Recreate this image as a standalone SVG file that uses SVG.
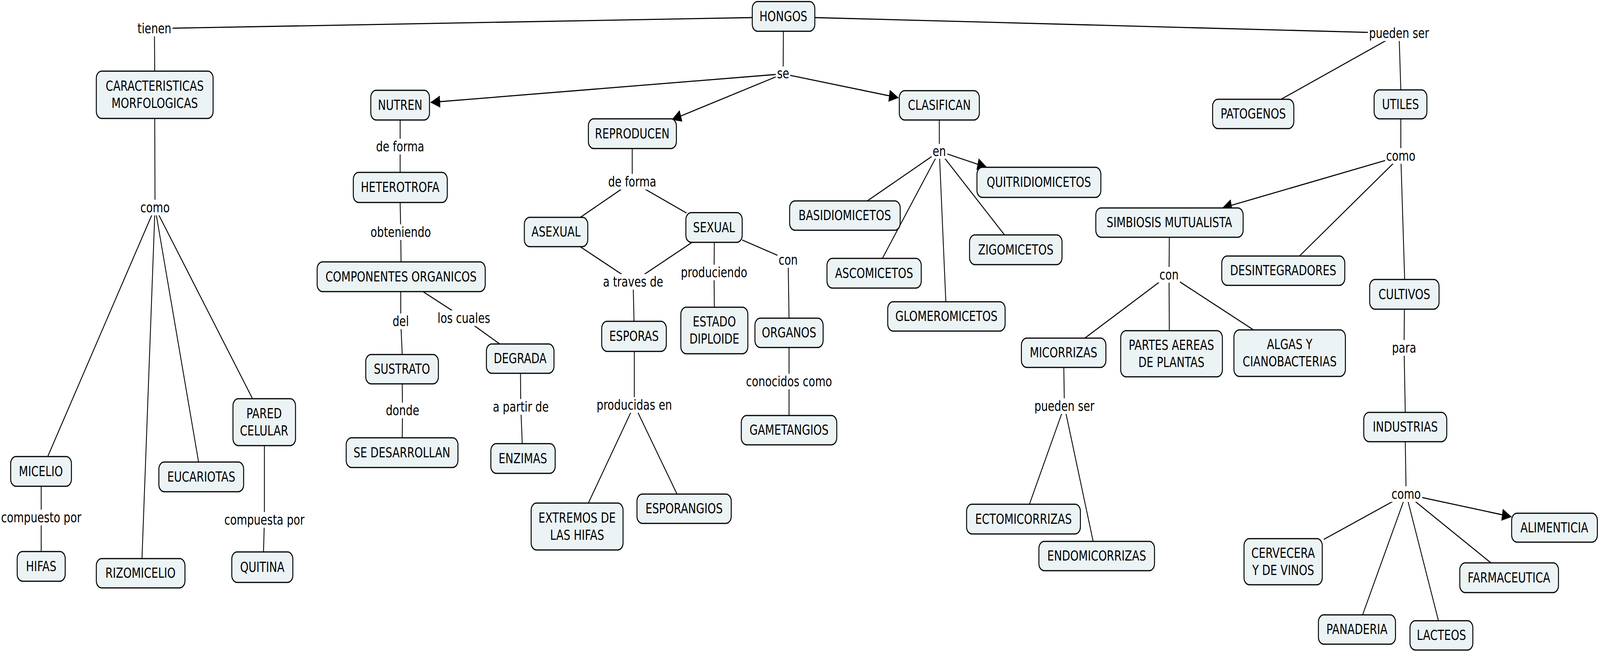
<svg xmlns="http://www.w3.org/2000/svg" width="5398" height="1668" viewBox="0 0 5398 1668" preserveAspectRatio="none" style="max-width:100vw;max-height:100vh">
<style>
.n rect{fill:#ebf3f5;stroke:#000;stroke-width:3.2}
text{font-family:"DejaVu Sans","Liberation Sans",sans-serif;font-size:36px;text-anchor:middle;fill:#000}
.c line{stroke:#000;stroke-width:2.8;fill:none}
.c line.a{marker-end:url(#ah)}
.l rect{fill:#fff}
</style>
<defs>
<marker id="ah" markerUnits="userSpaceOnUse" markerWidth="33" markerHeight="31" viewBox="0 0 33 31" refX="32" refY="15.5" orient="auto"><path d="M0,0 L33,15.5 L0,31 z" fill="#000"/></marker>
</defs>
<rect width="5398" height="1668" fill="#fff"/>
<g id="connectors" class="c">
<line x1="2538" y1="45" x2="521" y2="73"/>
<line x1="521" y1="73" x2="522" y2="182"/>
<line x1="2643" y1="80" x2="2642" y2="189"/>
<line class="a" x1="2642" y1="189" x2="1453" y2="262"/>
<line class="a" x1="2642" y1="189" x2="2267" y2="306"/>
<line class="a" x1="2642" y1="189" x2="3031" y2="250"/>
<line x1="2749" y1="45" x2="4720" y2="85"/>
<line x1="4720" y1="85" x2="4322" y2="254"/>
<line x1="4720" y1="85" x2="4726" y2="230"/>
<line x1="522" y1="303" x2="523" y2="531"/>
<line x1="523" y1="531" x2="161" y2="1168"/>
<line x1="523" y1="531" x2="479" y2="1429"/>
<line x1="523" y1="531" x2="670" y2="1182"/>
<line x1="523" y1="531" x2="852" y2="1020"/>
<line x1="139" y1="1244" x2="139" y2="1324"/>
<line x1="139" y1="1324" x2="139" y2="1411"/>
<line x1="892" y1="1140" x2="892" y2="1330"/>
<line x1="892" y1="1330" x2="889" y2="1412"/>
<line x1="1350" y1="307" x2="1350" y2="375"/>
<line x1="1350" y1="375" x2="1350" y2="441"/>
<line x1="1350" y1="518" x2="1352" y2="594"/>
<line x1="1352" y1="594" x2="1353" y2="670"/>
<line x1="1352" y1="746" x2="1352" y2="822"/>
<line x1="1352" y1="822" x2="1357" y2="907"/>
<line x1="1429" y1="747" x2="1565" y2="814"/>
<line x1="1565" y1="814" x2="1686" y2="880"/>
<line x1="1357" y1="982" x2="1358" y2="1050"/>
<line x1="1358" y1="1050" x2="1357" y2="1120"/>
<line x1="1756" y1="955" x2="1757" y2="1041"/>
<line x1="1757" y1="1041" x2="1762" y2="1135"/>
<line x1="2133" y1="380" x2="2133" y2="465"/>
<line x1="2133" y1="465" x2="1958" y2="556"/>
<line x1="2133" y1="465" x2="2316" y2="545"/>
<line x1="1959" y1="632" x2="2136" y2="721"/>
<line x1="2335" y1="620" x2="2136" y2="721"/>
<line x1="2136" y1="721" x2="2139" y2="822"/>
<line x1="2410" y1="620" x2="2409" y2="697"/>
<line x1="2409" y1="697" x2="2410" y2="786"/>
<line x1="2504" y1="614" x2="2659" y2="665"/>
<line x1="2659" y1="665" x2="2662" y2="814"/>
<line x1="2662" y1="889" x2="2662" y2="976"/>
<line x1="2662" y1="976" x2="2662" y2="1063"/>
<line x1="2140" y1="899" x2="2140" y2="1036"/>
<line x1="2140" y1="1036" x2="1985" y2="1287"/>
<line x1="2140" y1="1036" x2="2284" y2="1264"/>
<line x1="3169" y1="307" x2="3169" y2="387"/>
<line class="a" x1="3169" y1="387" x2="3329" y2="428"/>
<line x1="3169" y1="387" x2="2926" y2="514"/>
<line x1="3169" y1="387" x2="2977" y2="661"/>
<line x1="3169" y1="387" x2="3191" y2="772"/>
<line x1="3169" y1="387" x2="3389" y2="601"/>
<line x1="3945" y1="607" x2="3944" y2="703"/>
<line x1="3944" y1="703" x2="3660" y2="865"/>
<line x1="3944" y1="703" x2="3945" y2="846"/>
<line x1="3944" y1="703" x2="4229" y2="844"/>
<line x1="3589" y1="940" x2="3591" y2="1039"/>
<line x1="3591" y1="1039" x2="3473" y2="1290"/>
<line x1="3591" y1="1039" x2="3688" y2="1385"/>
<line x1="4726" y1="304" x2="4726" y2="399"/>
<line class="a" x1="4726" y1="399" x2="4124" y2="532"/>
<line x1="4726" y1="399" x2="4384" y2="655"/>
<line x1="4726" y1="399" x2="4739" y2="715"/>
<line x1="4738" y1="791" x2="4737" y2="890"/>
<line x1="4737" y1="890" x2="4741" y2="1055"/>
<line x1="4741" y1="1130" x2="4744" y2="1264"/>
<line class="a" x1="4744" y1="1264" x2="5099" y2="1322"/>
<line x1="4744" y1="1264" x2="4466" y2="1380"/>
<line x1="4744" y1="1264" x2="5030" y2="1440"/>
<line x1="4744" y1="1264" x2="4597" y2="1573"/>
<line x1="4744" y1="1264" x2="4853" y2="1588"/>
</g>
<g id="labels" class="l">
<rect x="460" y="53" width="122" height="40"/><text x="521" y="85">tienen</text>
<rect x="470" y="511" width="107" height="40"/><text x="523" y="543">como</text>
<rect x="2617" y="170" width="49" height="38"/><text x="2642" y="200">se</text>
<rect x="4615" y="65" width="211" height="40"/><text x="4720" y="97">pueden ser</text>
<rect x="1265" y="355" width="171" height="40"/><text x="1350" y="387">de forma</text>
<rect x="1246" y="574" width="212" height="40"/><text x="1352" y="606">obteniendo</text>
<rect x="1321" y="802" width="63" height="40"/><text x="1352" y="834">del</text>
<rect x="1472" y="794" width="186" height="40"/><text x="1565" y="826">los cuales</text>
<rect x="1298" y="1030" width="121" height="40"/><text x="1358" y="1062">donde</text>
<rect x="1659" y="1021" width="197" height="40"/><text x="1757" y="1053">a partir de</text>
<rect x="2048" y="445" width="171" height="40"/><text x="2133" y="477">de forma</text>
<rect x="2031" y="701" width="211" height="40"/><text x="2136" y="733">a traves de</text>
<rect x="2293" y="677" width="233" height="40"/><text x="2409" y="709">produciendo</text>
<rect x="2623" y="645" width="73" height="40"/><text x="2659" y="677">con</text>
<rect x="2513" y="956" width="298" height="40"/><text x="2662" y="988">conocidos como</text>
<rect x="2005" y="1016" width="270" height="40"/><text x="2140" y="1048">producidas en</text>
<rect x="3143" y="368" width="53" height="38"/><text x="3169" y="399">en</text>
<rect x="3908" y="683" width="73" height="40"/><text x="3944" y="715">con</text>
<rect x="3486" y="1019" width="211" height="40"/><text x="3591" y="1051">pueden ser</text>
<rect x="4673" y="379" width="107" height="40"/><text x="4726" y="411">como</text>
<rect x="4692" y="870" width="90" height="40"/><text x="4737" y="902">para</text>
<rect x="4691" y="1244" width="107" height="40"/><text x="4744" y="1276">como</text>
<rect x="2" y="1304" width="275" height="40"/><text x="139" y="1336">compuesto por</text>
<rect x="755" y="1310" width="275" height="40"/><text x="892" y="1342">compuesta por</text>
</g>
<g id="n-hongos" class="n"><rect x="2538" y="4" width="211" height="76" rx="18"/><text x="2643" y="54">HONGOS</text></g>
<g id="n-caract" class="n"><rect x="325" y="182" width="394" height="121" rx="18"/><text x="522" y="232">CARACTERISTICAS</text><text x="522" y="276">MORFOLOGICAS</text></g>
<g id="n-nutren" class="n"><rect x="1251" y="231" width="198" height="76" rx="18"/><text x="1350" y="281">NUTREN</text></g>
<g id="n-heterotrofa" class="n"><rect x="1192" y="441" width="317" height="77" rx="18"/><text x="1350" y="491">HETEROTROFA</text></g>
<g id="n-componentes" class="n"><rect x="1070" y="670" width="567" height="76" rx="18"/><text x="1353" y="720">COMPONENTES ORGANICOS</text></g>
<g id="n-sustrato" class="n"><rect x="1234" y="907" width="245" height="75" rx="18"/><text x="1356" y="956">SUSTRATO</text></g>
<g id="n-sedesarrollan" class="n"><rect x="1168" y="1120" width="377" height="76" rx="18"/><text x="1356" y="1170">SE DESARROLLAN</text></g>
<g id="n-degrada" class="n"><rect x="1641" y="880" width="228" height="75" rx="18"/><text x="1755" y="929">DEGRADA</text></g>
<g id="n-enzimas" class="n"><rect x="1656" y="1135" width="217" height="76" rx="18"/><text x="1764" y="1185">ENZIMAS</text></g>
<g id="n-reproducen" class="n"><rect x="1985" y="304" width="297" height="76" rx="18"/><text x="2133" y="354">REPRODUCEN</text></g>
<g id="n-asexual" class="n"><rect x="1769" y="556" width="214" height="75" rx="18"/><text x="1876" y="605">ASEXUAL</text></g>
<g id="n-sexual" class="n"><rect x="2314" y="544" width="190" height="76" rx="18"/><text x="2409" y="594">SEXUAL</text></g>
<g id="n-esporas" class="n"><rect x="2030" y="822" width="218" height="77" rx="18"/><text x="2139" y="872">ESPORAS</text></g>
<g id="n-estado" class="n"><rect x="2297" y="786" width="226" height="119" rx="18"/><text x="2410" y="835">ESTADO</text><text x="2410" y="879">DIPLOIDE</text></g>
<g id="n-organos" class="n"><rect x="2547" y="814" width="230" height="75" rx="18"/><text x="2662" y="863">ORGANOS</text></g>
<g id="n-gametangios" class="n"><rect x="2501" y="1063" width="322" height="75" rx="18"/><text x="2662" y="1112">GAMETANGIOS</text></g>
<g id="n-extremos" class="n"><rect x="1792" y="1287" width="310" height="120" rx="18"/><text x="1947" y="1337">EXTREMOS DE</text><text x="1947" y="1381">LAS HIFAS</text></g>
<g id="n-esporangios" class="n"><rect x="2149" y="1264" width="318" height="75" rx="18"/><text x="2308" y="1313">ESPORANGIOS</text></g>
<g id="n-clasifican" class="n"><rect x="3034" y="232" width="270" height="75" rx="18"/><text x="3169" y="281">CLASIFICAN</text></g>
<g id="n-quitridio" class="n"><rect x="3296" y="428" width="418" height="77" rx="18"/><text x="3505" y="478">QUITRIDIOMICETOS</text></g>
<g id="n-basidio" class="n"><rect x="2664" y="514" width="373" height="75" rx="18"/><text x="2850" y="563">BASIDIOMICETOS</text></g>
<g id="n-asco" class="n"><rect x="2790" y="661" width="318" height="76" rx="18"/><text x="2949" y="711">ASCOMICETOS</text></g>
<g id="n-glomero" class="n"><rect x="2995" y="772" width="396" height="75" rx="18"/><text x="3193" y="821">GLOMEROMICETOS</text></g>
<g id="n-zigo" class="n"><rect x="3271" y="601" width="312" height="76" rx="18"/><text x="3427" y="651">ZIGOMICETOS</text></g>
<g id="n-simbiosis" class="n"><rect x="3697" y="532" width="497" height="75" rx="18"/><text x="3945" y="581">SIMBIOSIS MUTUALISTA</text></g>
<g id="n-micorrizas" class="n"><rect x="3446" y="865" width="285" height="75" rx="18"/><text x="3588" y="914">MICORRIZAS</text></g>
<g id="n-partes" class="n"><rect x="3781" y="846" width="343" height="118" rx="18"/><text x="3952" y="895">PARTES AEREAS</text><text x="3952" y="939">DE PLANTAS</text></g>
<g id="n-algas" class="n"><rect x="4163" y="844" width="376" height="119" rx="18"/><text x="4351" y="893">ALGAS Y</text><text x="4351" y="937">CIANOBACTERIAS</text></g>
<g id="n-ecto" class="n"><rect x="3261" y="1290" width="384" height="76" rx="18"/><text x="3453" y="1340">ECTOMICORRIZAS</text></g>
<g id="n-endo" class="n"><rect x="3505" y="1385" width="390" height="75" rx="18"/><text x="3700" y="1434">ENDOMICORRIZAS</text></g>
<g id="n-patogenos" class="n"><rect x="4091" y="254" width="274" height="75" rx="18"/><text x="4228" y="303">PATOGENOS</text></g>
<g id="n-utiles" class="n"><rect x="4636" y="230" width="178" height="74" rx="18"/><text x="4725" y="279">UTILES</text></g>
<g id="n-desintegradores" class="n"><rect x="4122" y="655" width="415" height="75" rx="18"/><text x="4329" y="704">DESINTEGRADORES</text></g>
<g id="n-cultivos" class="n"><rect x="4621" y="715" width="234" height="76" rx="18"/><text x="4738" y="765">CULTIVOS</text></g>
<g id="n-industrias" class="n"><rect x="4601" y="1055" width="280" height="75" rx="18"/><text x="4741" y="1104">INDUSTRIAS</text></g>
<g id="n-alimenticia" class="n"><rect x="5100" y="1313" width="289" height="74" rx="18"/><text x="5244" y="1362">ALIMENTICIA</text></g>
<g id="n-cervecera" class="n"><rect x="4197" y="1378" width="264" height="118" rx="18"/><text x="4329" y="1427">CERVECERA</text><text x="4329" y="1471">Y DE VINOS</text></g>
<g id="n-farmaceutica" class="n"><rect x="4925" y="1440" width="333" height="76" rx="18"/><text x="5091" y="1490">FARMACEUTICA</text></g>
<g id="n-panaderia" class="n"><rect x="4448" y="1573" width="260" height="75" rx="18"/><text x="4578" y="1622">PANADERIA</text></g>
<g id="n-lacteos" class="n"><rect x="4757" y="1588" width="212" height="75" rx="18"/><text x="4863" y="1637">LACTEOS</text></g>
<g id="n-micelio" class="n"><rect x="36" y="1168" width="205" height="76" rx="18"/><text x="138" y="1218">MICELIO</text></g>
<g id="n-hifas" class="n"><rect x="58" y="1411" width="162" height="76" rx="18"/><text x="139" y="1461">HIFAS</text></g>
<g id="n-rizomicelio" class="n"><rect x="325" y="1429" width="299" height="75" rx="18"/><text x="474" y="1478">RIZOMICELIO</text></g>
<g id="n-eucariotas" class="n"><rect x="536" y="1182" width="286" height="76" rx="18"/><text x="679" y="1232">EUCARIOTAS</text></g>
<g id="n-pared" class="n"><rect x="786" y="1020" width="211" height="120" rx="18"/><text x="891" y="1070">PARED</text><text x="891" y="1114">CELULAR</text></g>
<g id="n-quitina" class="n"><rect x="782" y="1412" width="206" height="78" rx="18"/><text x="885" y="1463">QUITINA</text></g>
</svg>
